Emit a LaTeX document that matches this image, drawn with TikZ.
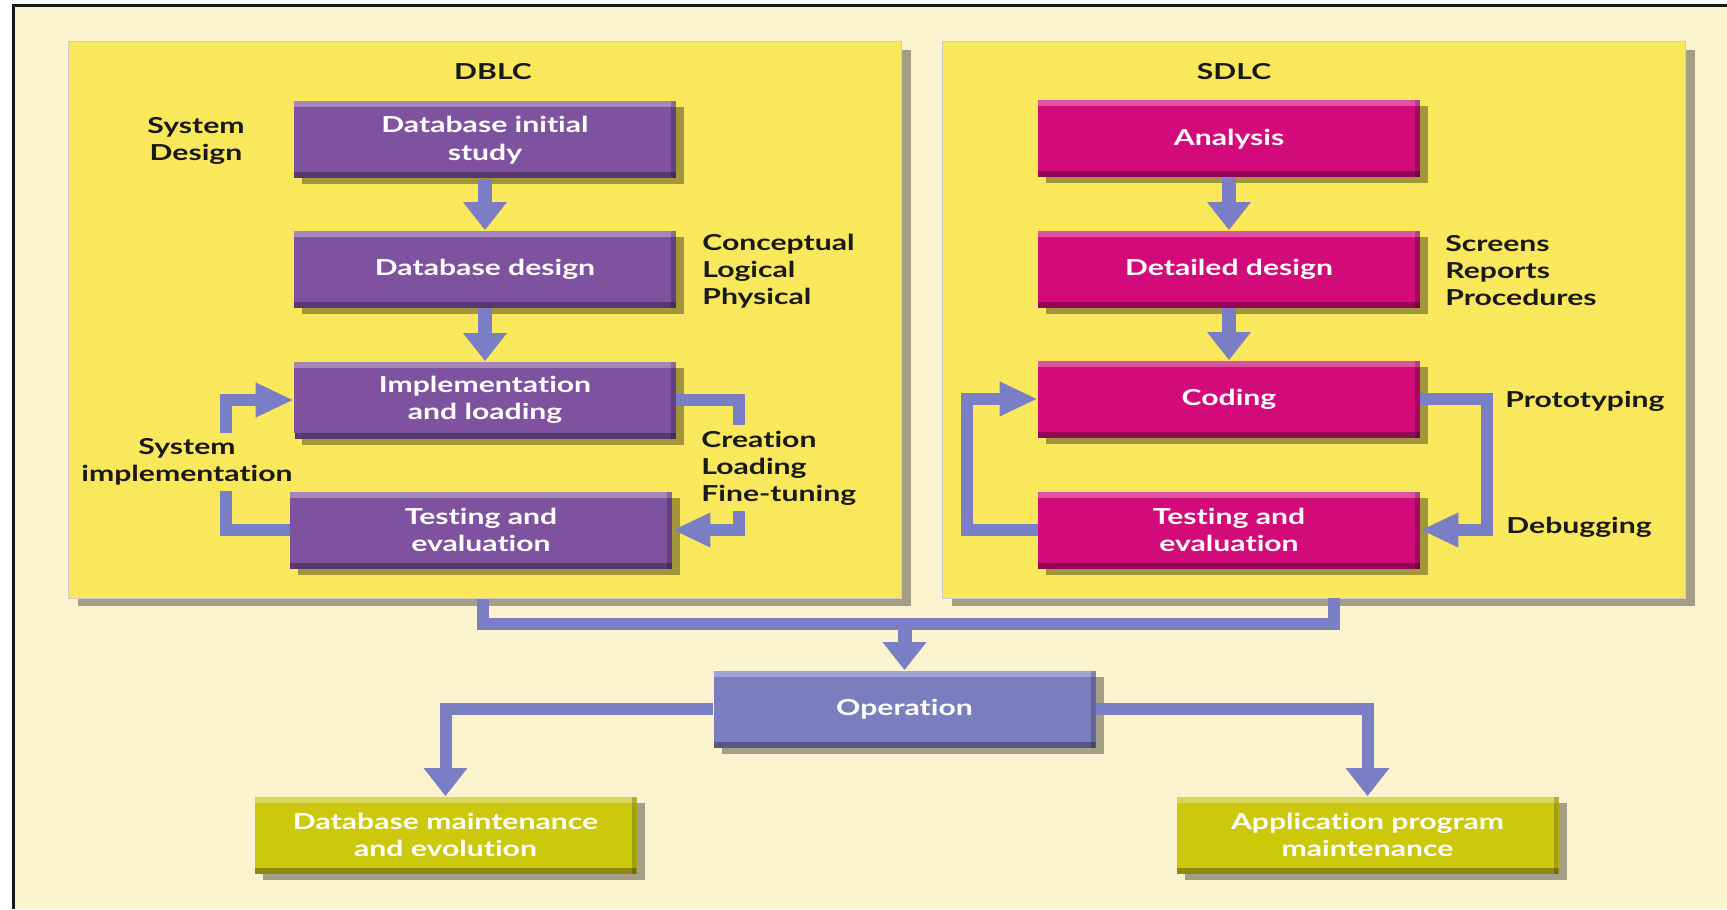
\documentclass[tikz,border=0pt]{standalone}
\usepackage{fontspec}
\setmainfont{Lato}[FakeStretch=1.37, Ligatures=NoCommon]
\usetikzlibrary{arrows.meta,shadows}

\definecolor{cream}{RGB}{251,243,205}
\definecolor{panelyellow}{RGB}{249,231,92}
\definecolor{dbpurple}{RGB}{126,82,158}
\definecolor{sdmagenta}{RGB}{210,10,122}
\definecolor{opblue}{RGB}{122,126,190}
\definecolor{mtgreen}{RGB}{204,200,12}
\definecolor{flow}{RGB}{122,126,196}
\definecolor{ink}{RGB}{25,25,25}

\newcommand\boxtext{\fontsize{11}{13.75}\selectfont\bfseries}
\newcommand\notetext{\fontsize{11}{13.5}\selectfont\bfseries}

\tikzset{
  stage/.style={minimum width=191pt, minimum height=38.5pt, inner sep=0pt,
    align=center, text=white, font=\boxtext, fill=#1,
    drop shadow={shadow xshift=4pt, shadow yshift=-3pt, opacity=.35, fill=black},
    path picture={
      \fill[white,opacity=.3] (path picture bounding box.north west)
        rectangle ([yshift=-3pt]path picture bounding box.north east);
      \fill[black,opacity=.3] ([yshift=3pt]path picture bounding box.south west)
        rectangle (path picture bounding box.south east);
      \fill[black,opacity=.2] ([xshift=-2.5pt]path picture bounding box.north east)
        rectangle (path picture bounding box.south east);
    }},
  panel/.style={fill=panelyellow, draw=black!20, line width=.5pt,
    minimum height=278pt, inner sep=0pt,
    drop shadow={shadow xshift=5pt, shadow yshift=-4pt, opacity=.35, fill=black}},
  title/.style={font=\notetext, text=ink},
  note/.style={font=\notetext, text=ink, inner sep=1pt},
  bar/.style={draw=flow, line width=6pt},
  downarrow/.style={draw=flow, line width=7pt, -{Triangle[length=14pt,width=21pt]}},
  sidearrow/.style={bar, -{Triangle[length=19pt,width=16pt]}},
}

\begin{document}
\begin{tikzpicture}[x=0.5pt, y=-0.5pt]
  \useasboundingbox (0,0) rectangle (1727,909);
  % page and frame
  \fill[white] (0,0) rectangle (1727,909);
  \fill[cream] (14,6) rectangle (1727,909);
  \draw[line width=1.5pt, ink] (13.5,909) -- (13.5,6) -- (1727,6);

  % the two life-cycle panels
  \node[panel, minimum width=416.5pt] (dblc) at (484.5,320) {};
  \node[panel, minimum width=371.5pt] (sdlc) at (1313.5,320) {};
  \node[title] (dblct) at (493,72) {DBLC};
  \node[title] (sdlct) at (1234,72) {SDLC};

  % DBLC stages
  \node[stage=dbpurple] (d1) at (485,140) {Database initial\\study};
  \node[stage=dbpurple] (d2) at (485,269) {Database design};
  \node[stage=dbpurple] (d3) at (485,400) {Implementation\\and loading};
  \node[stage=dbpurple] (d4) at (481,530) {Testing and\\evaluation};

  % SDLC stages
  \node[stage=sdmagenta] (s1) at (1229,139) {Analysis};
  \node[stage=sdmagenta] (s2) at (1229,269) {Detailed design};
  \node[stage=sdmagenta] (s3) at (1229,399) {Coding};
  \node[stage=sdmagenta] (s4) at (1229,530) {Testing and\\evaluation};

  % operation and maintenance
  \node[stage=opblue] (op) at (904.5,709) {Operation};
  \node[stage=mtgreen] (dbm) at (445.5,835) {Database maintenance\\and evolution};
  \node[stage=mtgreen] (apm) at (1367.5,835) {Application program\\maintenance};

  % DBLC flow
  \draw[downarrow] (d1.south) -- (d2.north);
  \draw[downarrow] (d2.south) -- (d3.north);
  \draw[sidearrow] (d4.west) -- ++(-64,0) |- (d3.west);
  \draw[sidearrow] (d3.east) -- ++(63,0) |- (d4.east);

  % SDLC flow
  \draw[downarrow] (s1.south) -- (s2.north);
  \draw[downarrow] (s2.south) -- (s3.north);
  \draw[sidearrow] (s3.east) -- ++(67,0) |- (s4.east);
  \draw[sidearrow] (s4.west) -- ++(-71,0) |- (s3.west);

  % both cycles feed operation
  \coordinate (bus) at (0,624);
  \coordinate (sdrop) at (1334,598);
  \draw[bar] (dblc.south -| 483,0) |- (bus -| sdrop) -- (sdrop);
  \draw[downarrow] (op.north |- bus) -- (op.north);
  \draw[downarrow, line width=6pt] (op.west) -| (dbm.north);
  \draw[downarrow, line width=6pt] (op.east) -| (apm.north);

  % annotations
  \node[note, align=center] (sysdes) at (196,141) {System\\Design};
  \node[note, align=left, anchor=west] (levels) at (700,271) {Conceptual\\Logical\\Physical};
  \node[note, align=center, fill=panelyellow, inner ysep=3pt] (sysimp) at (187,462) {System\\implementation};
  \node[note, align=left, anchor=west, fill=panelyellow, inner ysep=3pt] (tasks) at (699,468) {Creation\\Loading\\Fine-tuning};
  \node[note, align=left, anchor=west] (outputs) at (1443,271) {Screens\\Reports\\Procedures};
  \node[note, anchor=west] (proto) at (1503,401) {Prototyping};
  \node[note, anchor=west] (debug) at (1504,527) {Debugging};
\end{tikzpicture}
\end{document}
